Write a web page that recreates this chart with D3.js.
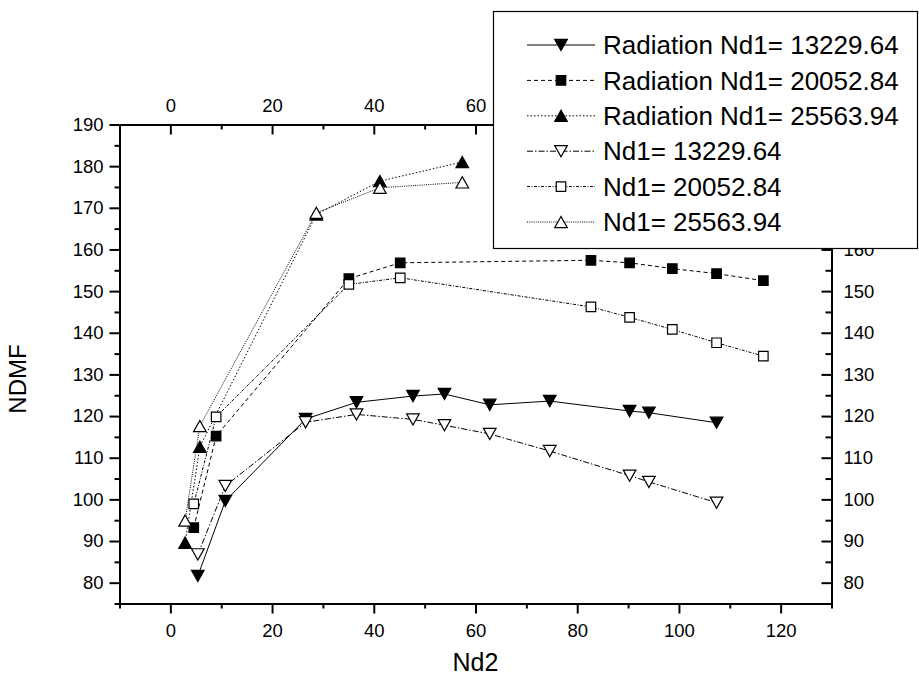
<!DOCTYPE html>
<html>
<head>
<meta charset="utf-8">
<script src="https://cdn.jsdelivr.net/npm/d3@7"></script>
<style>
  body { margin: 0; background: #fff; }
  svg { font-family: "Liberation Sans", Arial, sans-serif; }
</style>
</head>
<body>
<div id="chart"></div>
<script>
// tick labels
const xTicks = [0, 20, 40, 60, 80, 100, 120];
const xMinor = [-10, 10, 30, 50, 70, 90, 110, 130];
const yTicks = [80, 90, 100, 110, 120, 130, 140, 150, 160, 170, 180, 190];
const yMinor = [75, 85, 95, 105, 115, 125, 135, 145, 155, 165, 175, 185];
// labels that sit under the legend box in the original are left blank
const topLabelMax = 60;
const rightLabelMax = 160;

// Nd2 values per Nd1 group
const nd2_13229 = [5.4, 10.8, 26.6, 36.6, 47.7, 53.9, 62.8, 74.6, 90.3, 94.1, 107.4];
const nd2_20052 = [4.6, 9.0, 35.1, 45.2, 82.7, 90.3, 98.7, 107.4, 116.6];
const nd2_25563 = [2.9, 5.8, 28.7, 41.2, 57.4];

// NDMF values
const rad_13229 = [81.6, 99.6, 119.3, 123.3, 124.8, 125.3, 122.7, 123.6, 121.2, 120.8, 118.4];
const rad_20052 = [93.2, 115.2, 153.0, 156.8, 157.4, 156.8, 155.4, 154.2, 152.5];
const rad_25563 = [89.6, 112.6, 168.4, 176.4, 181.0];
const nd1_13229 = [86.8, 103.2, 118.5, 120.4, 119.2, 117.8, 115.7, 111.6, 105.7, 104.2, 99.2];
const nd1_20052 = [98.9, 119.8, 151.6, 153.2, 146.2, 143.7, 140.8, 137.6, 134.4];
const nd1_25563 = [94.9, 117.6, 168.8, 174.8, 176.1];

const seriesNames = [
  "Radiation Nd1= 13229.64", "Radiation Nd1= 20052.84", "Radiation Nd1= 25563.94",
  "Nd1= 13229.64", "Nd1= 20052.84", "Nd1= 25563.94"
];

const series = [
  {name: seriesNames[0], x: nd2_13229, y: rad_13229, shape: "down", filled: true, dash: null},
  {name: seriesNames[1], x: nd2_20052, y: rad_20052, shape: "square", filled: true, dash: "4,3"},
  {name: seriesNames[2], x: nd2_25563, y: rad_25563, shape: "up", filled: true, dash: "1.5,2"},
  {name: seriesNames[3], x: nd2_13229, y: nd1_13229, shape: "down", filled: false, dash: "6,2,1.5,2"},
  {name: seriesNames[4], x: nd2_20052, y: nd1_20052, shape: "square", filled: false, dash: "3,1.5,1,1.5"},
  {name: seriesNames[5], x: nd2_25563, y: nd1_25563, shape: "up", filled: false, dash: "1,1.2"}
];

const W = 919, H = 677;
const plot = {left: 119.5, right: 831.5, top: 124.5, bottom: 603.5};

let svg = d3.select("#chart").append("svg")
  .attr("width", W).attr("height", H)
  .attr("viewBox", `0 0 ${W} ${H}`);

let x = d3.scaleLinear().domain([-10, 130]).range([plot.left, plot.right]);
let y = d3.scaleLinear().domain([75, 190]).range([plot.bottom, plot.top]);

let styleAxis = function(g, fs) {
  g.select(".domain").attr("stroke", "#000").attr("stroke-width", 2);
  g.selectAll(".tick line").attr("stroke", "#000").attr("stroke-width", 2);
  g.selectAll(".tick text").attr("fill", "#000").style("font-size", fs + "px");
};

const tickFont = 18.5;

// minor ticks
svg.append("g").attr("transform", `translate(0,${plot.bottom})`)
  .call(d3.axisBottom(x).tickValues(xMinor).tickSize(5).tickSizeOuter(0).tickFormat(""))
  .call(g => styleAxis(g, tickFont));
svg.append("g").attr("transform", `translate(0,${plot.top})`)
  .call(d3.axisTop(x).tickValues(xMinor).tickSize(-5).tickSizeOuter(0).tickFormat(""))
  .call(g => styleAxis(g, tickFont));
svg.append("g").attr("transform", `translate(${plot.left},0)`)
  .call(d3.axisLeft(y).tickValues(yMinor).tickSize(5).tickSizeOuter(0).tickFormat(""))
  .call(g => styleAxis(g, tickFont));
svg.append("g").attr("transform", `translate(${plot.right},0)`)
  .call(d3.axisRight(y).tickValues(yMinor).tickSize(-6).tickSizeOuter(0).tickFormat(""))
  .call(g => styleAxis(g, tickFont));

// major ticks
svg.append("g").attr("transform", `translate(0,${plot.bottom})`)
  .call(d3.axisBottom(x).tickValues(xTicks).tickSize(10).tickPadding(10.5).tickSizeOuter(0))
  .call(g => styleAxis(g, tickFont));
svg.append("g").attr("transform", `translate(0,${plot.top})`)
  .call(d3.axisTop(x).tickValues(xTicks).tickSize(-10).tickPadding(12.5).tickSizeOuter(0)
    .tickFormat(d => d <= topLabelMax ? d : ""))
  .call(g => styleAxis(g, tickFont));
svg.append("g").attr("transform", `translate(${plot.left},0)`)
  .call(d3.axisLeft(y).tickValues(yTicks).tickSize(10).tickPadding(6).tickSizeOuter(0))
  .call(g => styleAxis(g, tickFont));
svg.append("g").attr("transform", `translate(${plot.right},0)`)
  .call(d3.axisRight(y).tickValues(yTicks).tickSize(-10).tickPadding(12).tickSizeOuter(0)
    .tickFormat(d => d <= rightLabelMax ? d : ""))
  .call(g => styleAxis(g, tickFont));

// axis titles
svg.append("text")
  .attr("x", (plot.left + plot.right) / 2).attr("y", 671)
  .attr("text-anchor", "middle").style("font-size", "25px").attr("fill", "#000")
  .text("Nd2");
svg.append("text")
  .attr("transform", "translate(26,379) rotate(-90)")
  .attr("text-anchor", "middle").style("font-size", "24px").attr("fill", "#000")
  .text("NDMF");

// marker shapes
let markerPath = function(shape) {
  if (shape === "square") {
    let s = 4.75;
    return `M${-s},${-s}H${s}V${s}H${-s}Z`;
  }
  let w = 6.3, h = 5.6;
  if (shape === "down") return `M${-w},${-h}L${w},${-h}L0,${h}Z`;
  return `M${-w},${h}L${w},${h}L0,${-h}Z`;
};

let line = d3.line().x(d => x(d[0])).y(d => y(d[1]));

series.forEach(s => {
  let pts = s.x.map((v, i) => [v, s.y[i]]);
  let g = svg.append("g");
  g.append("path")
    .attr("d", line(pts))
    .attr("fill", "none")
    .attr("stroke", "#000")
    .attr("stroke-width", 1)
    .attr("stroke-dasharray", s.dash);
  g.selectAll("path.marker")
    .data(pts)
    .enter()
    .append("path")
      .attr("class", "marker")
      .attr("d", markerPath(s.shape))
      .attr("transform", d => `translate(${x(d[0])},${y(d[1])})`)
      .attr("fill", s.filled ? "#000" : "#fff")
      .attr("stroke", "#000")
      .attr("stroke-width", 1.2);
});

// legend
let legend = svg.append("g");
legend.append("rect")
  .attr("x", 493.5).attr("y", 11.5).attr("width", 424).attr("height", 237)
  .attr("fill", "#fff").attr("stroke", "#000").attr("stroke-width", 1.2);

series.forEach((s, i) => {
  let cy = 45 + i * 35.4;
  let row = legend.append("g");
  row.append("line")
    .attr("x1", 527).attr("x2", 595).attr("y1", cy).attr("y2", cy)
    .attr("stroke", "#000").attr("stroke-width", 1)
    .attr("stroke-dasharray", s.dash);
  row.append("path")
    .attr("d", markerPath(s.shape))
    .attr("transform", `translate(561,${cy})`)
    .attr("fill", s.filled ? "#000" : "#fff")
    .attr("stroke", "#000").attr("stroke-width", 1.2);
  row.append("text")
    .attr("x", 603).attr("y", cy).attr("dy", "0.35em")
    .style("font-size", "26px").attr("fill", "#000")
    .text(s.name);
});
</script>
</body>
</html>
